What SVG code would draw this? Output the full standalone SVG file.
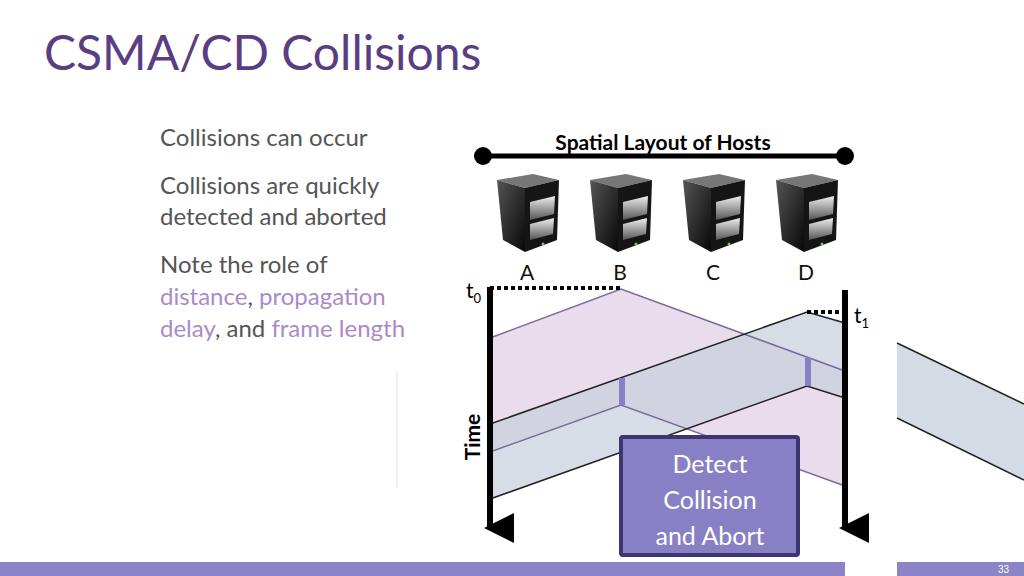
<svg xmlns="http://www.w3.org/2000/svg" width="1024" height="576" viewBox="0 0 1024 576">
<style>
.t{font-family:Lato,"Open Sans",sans-serif}
.b{font-size:24px;fill:#555}
.p{fill:#a98bc9}
.lbl{font-size:21px;fill:#111}
</style>
<defs>
<linearGradient id="gs" x1="0" y1="0" x2="1" y2="1"><stop offset="0" stop-color="#555"/><stop offset="1" stop-color="#080808"/></linearGradient>
<linearGradient id="gd" x1="0" y1="0" x2="0" y2="1"><stop offset="0" stop-color="#eee"/><stop offset="1" stop-color="#555"/></linearGradient>
<symbol id="srv" viewBox="0 0 62 78" width="62" height="78">
<polygon points="0,6 36,0 62,6 28,14" fill="#777"/>
<polygon points="0,6 28,14 28,78 6,66" fill="url(#gs)"/>
<polygon points="28,14 62,6 60,66 28,78" fill="#151515"/>
<polygon points="33,28 58,22 57,40 33,46" fill="url(#gd)"/>
<polygon points="33,50 57,44 56,60 33,66" fill="url(#gd)"/>
<circle cx="46" cy="70" r="1.5" fill="#6c6"/>
</symbol>
<marker id="ah" viewBox="0 0 10 10" refX="5" refY="8" markerWidth="5" markerHeight="5" orient="auto-start-reverse" markerUnits="strokeWidth"><path d="M0,0 L10,0 L5,10 Z"/></marker>
</defs>
<rect width="1024" height="576" fill="#fff"/>
<text class="t" x="44" y="70" font-size="48" fill="#5b3e82">CSMA/CD Collisions</text>
<g class="t b">
<text x="160" y="146">Collisions can occur</text>
<text x="160" y="194">Collisions are quickly</text>
<text x="160" y="225">detected and aborted</text>
<text x="160" y="273">Note the role of</text>
<text x="160" y="305"><tspan class="p">distance</tspan>, <tspan class="p">propagation</tspan></text>
<text x="160" y="337"><tspan class="p">delay</tspan>, and <tspan class="p">frame length</tspan></text>
</g>
<line x1="397" y1="372" x2="397" y2="488" stroke="#ddd"/>
<g id="bus">
<text class="t" x="663" y="150" font-size="21" font-weight="bold" text-anchor="middle">Spatial Layout of Hosts</text>
<line x1="483" y1="156" x2="845" y2="156" stroke="#000" stroke-width="5"/>
<circle cx="483" cy="156" r="9"/><circle cx="845" cy="156" r="9"/>
</g>
<g id="hostA"><use href="#srv" x="497" y="174"/><text class="t lbl" x="527" y="280" text-anchor="middle">A</text></g>
<g id="hostB"><use href="#srv" x="590" y="174"/><text class="t lbl" x="620" y="280" text-anchor="middle">B</text></g>
<g id="hostC"><use href="#srv" x="683" y="174"/><text class="t lbl" x="713" y="280" text-anchor="middle">C</text></g>
<g id="hostD"><use href="#srv" x="776" y="174"/><text class="t lbl" x="806" y="280" text-anchor="middle">D</text></g>
<g id="frames">
<polygon points="490,338 621,289 845,371 845,486 621,405 490,452" fill="#e9dcec"/>
<polygon points="490,424 807,312 845,323 845,398 807,386 490,499" fill="#c6cfdd" fill-opacity="0.7"/>
<polyline points="490,338 621,289 845,371" fill="none" stroke="#7b6a9a" stroke-width="1.5"/>
<polyline points="490,452 621,405 845,486" fill="none" stroke="#7b6a9a" stroke-width="1.5"/>
<polyline points="490,424 807,312 845,323" fill="none" stroke="#222" stroke-width="1.5"/>
<polyline points="490,499 807,386 845,398" fill="none" stroke="#222" stroke-width="1.5"/>
<rect x="619" y="378" width="6" height="27" fill="#8780c4"/>
<rect x="805" y="358" width="6" height="28" fill="#8780c4"/>
<polygon points="897,343 1024,404 1024,480 897,418" fill="#d5dbe4"/>
<line x1="897" y1="343" x2="1024" y2="404" stroke="#222" stroke-width="1.5"/>
<line x1="897" y1="418" x2="1024" y2="480" stroke="#222" stroke-width="1.5"/>
</g>
<g id="connectors">
<line x1="490" y1="288" x2="622" y2="288" stroke="#000" stroke-width="4" stroke-dasharray="4,3"/>
<line x1="807" y1="312" x2="843" y2="312" stroke="#000" stroke-width="4" stroke-dasharray="4,3"/>
<line x1="490" y1="287" x2="490" y2="528" stroke="#000" stroke-width="6" marker-end="url(#ah)"/>
<line x1="845" y1="290" x2="845" y2="528" stroke="#000" stroke-width="6" marker-end="url(#ah)"/>
</g>
<text class="t" x="466" y="298" font-size="21">t<tspan font-size="13" dy="5">0</tspan></text>
<text class="t" x="854" y="323" font-size="21">t<tspan font-size="13" dy="5">1</tspan></text>
<text class="t" font-size="21" font-weight="bold" text-anchor="middle" transform="translate(480,437) rotate(-90)">Time</text>
<g id="bar">
<rect x="0" y="562" width="845" height="14" fill="#8b84c6"/>
<rect x="897" y="562" width="127" height="14" fill="#8b84c6"/>
<text x="998" y="573" font-family="Liberation Sans,sans-serif" font-size="10" fill="#fff">33</text>
</g>
<g id="detect">
<rect x="621" y="437" width="177" height="118" fill="#8780c4" stroke="#3d3570" stroke-width="4" rx="2"/>
<g class="t" font-size="25" fill="#fff" text-anchor="middle">
<text x="710" y="473">Detect</text>
<text x="710" y="509">Collision</text>
<text x="710" y="545">and Abort</text>
</g>
</g>
</svg>
